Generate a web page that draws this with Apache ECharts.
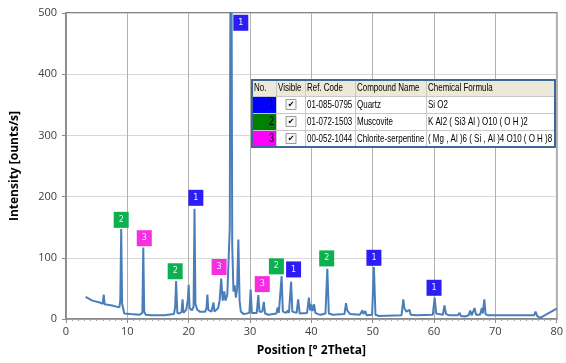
<!DOCTYPE html>
<html><head><meta charset="utf-8">
<script src="https://cdn.jsdelivr.net/npm/echarts@6/dist/echarts.min.js"></script>
<style>html,body{margin:0;padding:0;background:#fff}#c{width:566px;height:363px}</style>
</head><body><div id="c"></div>
<script>
// ---- data ----
const twoTheta = [3.2,4.3,5.5,6.0,6.15,6.3,7.5,8.7,8.85,9.0,9.15,9.5,10.5,12.0,12.45,12.6,12.75,13.0,14,16,
17.6,17.8,17.95,18.15,18.5,18.85,19.0,19.15,19.6,19.85,20.0,20.15,20.5,20.8,20.95,21.1,21.4,21.6,21.8,
22.7,22.9,23.05,23.2,23.7,23.9,24.05,24.2,24.8,25.05,25.3,25.55,25.8,26.0,26.3,26.7,26.9,27.1,27.3,27.5,27.7,27.9,28.1,28.3,28.5,29.0,
29.9,30.1,30.3,30.6,31.1,31.35,31.55,32.0,32.25,32.45,33.0,34.3,34.5,34.7,34.95,35.15,35.35,35.9,36.15,36.35,36.5,36.7,36.9,37.6,37.85,38.1,
39.3,39.6,39.8,40.0,40.2,40.45,40.65,41.1,41.3,41.5,42.3,42.6,42.85,43.5,45.4,45.65,45.85,46.1,46.3,47.9,48.1,48.3,48.5,48.8,49.0,
49.9,50.2,50.45,51.0,54.7,55.0,55.15,55.3,55.5,55.8,56.0,56.2,57.0,59.8,60.1,60.35,60.8,61.45,61.7,61.95,62.5,
63.9,64.15,64.4,65.0,65.65,65.9,66.15,66.4,66.6,66.85,67.5,67.8,67.95,68.2,68.4,68.8,72.4,72.65,72.9,76.3,76.55,76.8,77.3,80.0];
const counts = [36,30,27,25,40,24,22,19,30,147,25,9,8,7,10,117,12,7,6,6,
8,20,62,10,9,12,32,10,15,30,56,18,14,20,180,25,15,17,12,
12,18,40,15,12,15,27,12,18,30,66,30,45,30,40,150,900,120,45,55,35,50,130,30,12,8,
10,48,10,8,10,39,12,12,28,9,7,9,19,10,12,70,12,10,14,10,12,61,12,10,32,9,
10,35,14,24,13,24,10,8,11,7,9,82,9,7,8,26,14,15,8,7,9,14,8,13,6,
7,85,7,5,6,32,18,21,12,10,15,7,6,7,35,9,8,7,22,8,6,
6,10,5,4,6,14,6,7,18,7,7,18,9,32,8,6,6,8,6,6,12,5,2,17];

const phase1Marks = [[28.5,484],[21.17,198],[37.1,81],[50.2,100],[60.0,51]];   // Quartz
const phase2Marks = [[9.0,162],[17.8,78],[34.3,86],[42.5,99]];                // Muscovite
const phase3Marks = [[12.76,132],[24.96,85],[32.0,57]];                        // Chlorite-serpentine

const xTicks = [0,10,20,30,40,50,60,70,80];
const yTicks = [0,100,200,300,400,500];

const tableHeader = ['No.','Visible','Ref. Code','Compound Name','Chemical Formula'];
const tableRows = [
  ['1','01-085-0795','Quartz','Si O2'],
  ['2','01-072-1503','Muscovite','K Al2 ( Si3 Al ) O10 ( O H )2'],
  ['3','00-052-1044','Chlorite-serpentine','( Mg , Al )6 ( Si , Al )4 O10 ( O H )8']
];
const phaseColors = ['#0000ff','#008000','#ff00ff'];
const markColors = ['#2c1cf5','#0db04f','#f52fe0'];

// ---- chart ----
const chart = echarts.init(document.getElementById('c'), null, {renderer:'canvas'});
const lineData = twoTheta.map((x,i)=>[x,counts[i]]);

function markSeries(data, idx){
  return {
    type:'scatter', data:data, symbol:'rect', symbolSize:[15,16], z:5,
    itemStyle:{color:markColors[idx], opacity:1},
    label:{show:true, position:'inside', formatter:String(idx+1), color:'#f0f0ff', fontSize:8, fontFamily:'DejaVu Sans'},
    silent:true
  };
}

// table graphic
const colX = [252,276,305,355,426,555];
const rowY = [80,96,113,130,147];
const g = [];
g.push({type:'rect', shape:{x:colX[0],y:rowY[0],width:colX[5]-colX[0],height:rowY[4]-rowY[0]}, style:{fill:'#ffffff'}, z:10});
g.push({type:'rect', shape:{x:colX[0],y:rowY[0],width:colX[5]-colX[0],height:rowY[1]-rowY[0]}, style:{fill:'#ece9d8'}, z:10});
for (let r=0;r<3;r++){
  g.push({type:'rect', shape:{x:colX[0],y:rowY[r+1],width:colX[1]-colX[0],height:rowY[r+2]-rowY[r+1]}, style:{fill:phaseColors[r]}, z:11});
}
for (let c=1;c<5;c++){
  g.push({type:'line', shape:{x1:colX[c]+0.5,y1:rowY[0],x2:colX[c]+0.5,y2:rowY[4]}, style:{stroke:'#c8c8c8',lineWidth:1}, z:12});
}
for (let r=1;r<4;r++){
  g.push({type:'line', shape:{x1:colX[0],y1:rowY[r]+0.5,x2:colX[5],y2:rowY[r]+0.5}, style:{stroke:'#c8c8c8',lineWidth:1}, z:12});
}
const tf = '"Liberation Sans",Arial,sans-serif';
const SX = 0.76;
function txt(t, x, y, size, align){
  return {type:'text', x:x, y:y, scaleX:SX, scaleY:1,
    style:{text:t, font:size+'px '+tf, fill:'#000', align:align||'left', verticalAlign:'middle'}, z:13};
}
tableHeader.forEach((h,c)=>{
  g.push(txt(h, colX[c]+2, (rowY[0]+rowY[1])/2+0.5, 10.5));
});
tableRows.forEach((row,r)=>{
  const cy = (rowY[r+1]+rowY[r+2])/2+0.5;
  g.push(txt(row[0], colX[1]-2, cy, 12, 'right'));
  g.push({type:'rect', shape:{x:286,y:cy-5.5,width:10,height:10}, style:{fill:'#f6f6f6',stroke:'#9a9a9a',lineWidth:1}, z:13});
  g.push({type:'text', x:291, y:cy-0.5, style:{text:'✔', font:'8px DejaVu Sans', fill:'#000', align:'center', verticalAlign:'middle'}, z:14});
  g.push(txt(row[1], colX[2]+2, cy, 10.5));
  g.push(txt(row[2], colX[3]+2, cy, 10.5));
  g.push(txt(row[3], colX[4]+2, cy, 10.5));
});
g.push({type:'rect', shape:{x:colX[0],y:rowY[0],width:colX[5]-colX[0],height:rowY[4]-rowY[0]}, style:{fill:'none',stroke:'#3f6797',lineWidth:2}, z:15});

chart.setOption({
  animation:false,
  backgroundColor:'#ffffff',
  textStyle:{fontFamily:'"Open Sans","Liberation Sans",Arial,sans-serif'},
  grid:{left:66,right:8,top:13,bottom:44, show:true, borderColor:'#5a5a5a', borderWidth:1.5, backgroundColor:'transparent'},
  xAxis:{type:'value', min:xTicks[0], max:xTicks[xTicks.length-1], interval:10,
    name:'Position [° 2Theta]', nameLocation:'middle', nameGap:26,
    nameTextStyle:{fontWeight:'bold', fontSize:12, color:'#000'},
    axisLine:{show:true, onZero:false, lineStyle:{color:'#8c8c8c', width:1.5}},
    axisTick:{show:true, inside:false, length:4, lineStyle:{color:'#8c8c8c'}},
    minorTick:{show:true, splitNumber:10, length:2, lineStyle:{color:'#a0a0a0'}},
    axisLabel:{color:'#404040', fontSize:11, margin:7},
    splitLine:{show:true, lineStyle:{color:'#b0b0b0', width:1}}},
  yAxis:{type:'value', min:yTicks[0], max:yTicks[yTicks.length-1], interval:100,
    name:'Intensity [ounts/s]', nameLocation:'middle', nameGap:45, nameRotate:90,
    nameTextStyle:{fontWeight:'bold', fontSize:12, color:'#000'},
    axisLine:{show:true, lineStyle:{color:'#8c8c8c', width:1.5}},
    axisTick:{show:true, inside:false, length:4, lineStyle:{color:'#8c8c8c'}},
    axisLabel:{color:'#404040', fontSize:11, margin:9},
    splitLine:{show:true, lineStyle:{color:'#d9d9d9', width:1}}},
  series:[
    {type:'line', data:lineData, showSymbol:false, clip:true, z:3,
     lineStyle:{color:'#4a7ebb', width:2}, silent:true},
    markSeries(phase1Marks,0),
    markSeries(phase2Marks,1),
    markSeries(phase3Marks,2)
  ],
  graphic:g
});
</script></body></html>
